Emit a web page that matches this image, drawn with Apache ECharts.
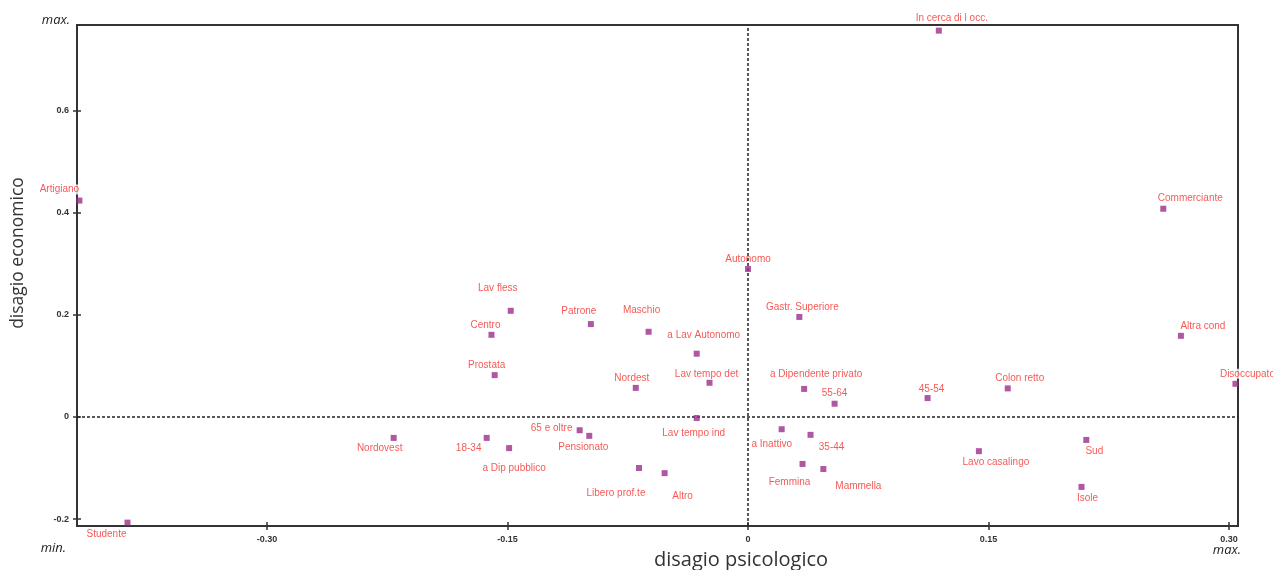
<!DOCTYPE html>
<html>
<head>
<meta charset="utf-8">
<script src="https://cdn.jsdelivr.net/npm/echarts@6/dist/echarts.min.js"></script>
<style>
html,body{margin:0;padding:0;background:#fff;}
#chart{width:1273px;height:570px;}
</style>
</head>
<body>
<div id="chart"></div>
<script>
// ---- data ----
const names = ["Artigiano","Studente","In cerca di l occ.","Commerciante","Altra cond","Disoccupato",
  "Autonomo","Gastr. Superiore","Maschio","Patrone","Lav fless","Centro","Prostata","Nordest",
  "a Lav Autonomo","Lav tempo det","Lav tempo ind","a Dipendente privato","55-64","45-54","Colon retto",
  "a Inattivo","35-44","Femmina","Mammella","Lavo casalingo","Sud","Isole","Nordovest","18-34",
  "a Dip pubblico","65 e oltre","Pensionato","Libero prof.te","Altro"];
const psicologico = [-0.417,-0.387,0.119,0.259,0.270,0.304,
  0.000,0.032,-0.062,-0.098,-0.148,-0.160,-0.158,-0.070,
  -0.032,-0.024,-0.032,0.035,0.054,0.112,0.162,
  0.021,0.039,0.034,0.047,0.144,0.211,0.208,-0.221,-0.163,
  -0.149,-0.105,-0.099,-0.068,-0.052];
const economico = [0.424,-0.207,0.757,0.408,0.159,0.065,
  0.290,0.196,0.167,0.182,0.208,0.161,0.082,0.057,
  0.124,0.067,-0.002,0.055,0.026,0.037,0.056,
  -0.024,-0.035,-0.092,-0.102,-0.067,-0.045,-0.137,-0.041,-0.041,
  -0.061,-0.026,-0.037,-0.100,-0.110];
const xTicks = [-0.30,-0.15,0,0.15,0.30];
const xTickLabels = ["-0.30","-0.15","0","0.15","0.30"];
const yTicks = [-0.2,0,0.2,0.4,0.6];
const yTickLabels = ["-0.2","0","0.2","0.4","0.6"];

// ---- label placement (layout) ----
const labelOffsets = [[-20,-11],[-21,12],[13,-12],[27,-10],[22,-10],[12,-10],
  [0,-10],[3,-10],[-7,-21],[-12,-13],[-13,-23],[-6,-10],[-8,-10],[-4,-10],
  [7,-18],[-3,-9],[-3,15],[12,-15],[0,-10],[4,-9],[12,-10],
  [-10,15],[21,12],[-13,18],[35,17],[17,11],[8,11],[6,11],[-14,10],[-18,10],
  [5,20],[-28,-2],[-6,11],[-23,25],[18,23]];

const SYM = 6;
const labelData = names.map((n,i)=>({
  name:n,
  value:[psicologico[i],economico[i]],
  label:{position:[SYM/2+labelOffsets[i][0], SYM/2+labelOffsets[i][1]]}
}));
const markData = names.map((n,i)=>({name:n,value:[psicologico[i],economico[i]]}));

const xMin=-0.4185, xMax=0.3056, yMin=-0.2136, yMax=0.768;

const chart = echarts.init(document.getElementById('chart'),null,{renderer:'canvas'});
const tickFont = {color:'#333',fontSize:9,fontWeight:'bold',fontFamily:'Liberation Sans, Arial'};
chart.setOption({
  animation:false,
  backgroundColor:'#fff',
  grid:{left:77,top:25,width:1161,height:501,show:true,borderColor:'#333',borderWidth:2,backgroundColor:'transparent'},
  xAxis:[{
    type:'value',min:xMin,max:xMax,position:'bottom',
    axisLine:{show:true,onZero:false,lineStyle:{color:'#333',width:2}},
    axisTick:{show:true,customValues:xTicks,length:4,lineStyle:{color:'#333',width:1.5}},
    axisLabel:{show:true,customValues:xTicks,margin:9,formatter:(v)=>{const k=xTicks.findIndex(t=>Math.abs(t-v)<1e-9);return k>=0?xTickLabels[k]:'';},...tickFont},
    splitLine:{show:false}
  },{
    type:'value',min:xMin,max:xMax,position:'bottom',
    axisLine:{show:false,onZero:false},
    axisTick:{show:true,inside:true,customValues:xTicks,length:4,lineStyle:{color:'#333',width:1.5}},
    axisLabel:{show:false},splitLine:{show:false}
  }],
  yAxis:[{
    type:'value',min:yMin,max:yMax,position:'left',
    axisLine:{show:true,onZero:false,lineStyle:{color:'#333',width:2}},
    axisTick:{show:true,customValues:yTicks,length:4,lineStyle:{color:'#333',width:1.5}},
    axisLabel:{show:true,customValues:yTicks,margin:8,formatter:(v)=>{const k=yTicks.findIndex(t=>Math.abs(t-v)<1e-9);return k>=0?yTickLabels[k]:'';},...tickFont},
    splitLine:{show:false}
  },{
    type:'value',min:yMin,max:yMax,position:'left',
    axisLine:{show:false,onZero:false},
    axisTick:{show:true,inside:true,customValues:yTicks,length:4,lineStyle:{color:'#333',width:1.5}},
    axisLabel:{show:false},splitLine:{show:false}
  }],
  series:[{
    type:'scatter',z:1,data:[],
    markLine:{
      silent:true,symbol:'none',label:{show:false},
      lineStyle:{color:'#222',type:[3,2],width:1.5},
      data:[{xAxis:0},{yAxis:0}]
    }
  },{
    // labels (white boxes) beneath the markers
    type:'scatter',z:3,clip:false,
    symbol:'rect',symbolSize:SYM,
    itemStyle:{color:'rgba(0,0,0,0)'},
    label:{show:true,formatter:'{b}',color:'#f2302c',fontSize:10,align:'center',verticalAlign:'middle',
      fontFamily:'Liberation Sans, Arial',backgroundColor:'#fff',padding:[0,1]},
    labelLayout:{hideOverlap:false},
    data:labelData
  },{
    type:'scatter',z:5,clip:false,
    symbol:'rect',symbolSize:SYM,
    itemStyle:{color:'#9b2d8c'},
    data:markData
  }],
  graphic:[
    {type:'text',x:70,y:20,style:{text:'max.',font:'italic 13px "Open Sans", sans-serif',fill:'#222',align:'right',verticalAlign:'middle'}},
    {type:'text',x:66,y:548,style:{text:'min.',font:'italic 13px "Open Sans", sans-serif',fill:'#222',align:'right',verticalAlign:'middle'}},
    {type:'text',x:1241,y:550,style:{text:'max.',font:'italic 13px "Open Sans", sans-serif',fill:'#222',align:'right',verticalAlign:'middle'}},
    {type:'text',x:741,y:560,style:{text:'disagio psicologico',font:'20px "Open Sans", sans-serif',fill:'#333',align:'center',verticalAlign:'middle'}},
    {type:'text',x:18,y:253,rotation:Math.PI/2,style:{text:'disagio economico',font:'17.5px "Open Sans", sans-serif',fill:'#333',align:'center',verticalAlign:'middle'}}
  ]
});
</script>
</body>
</html>
